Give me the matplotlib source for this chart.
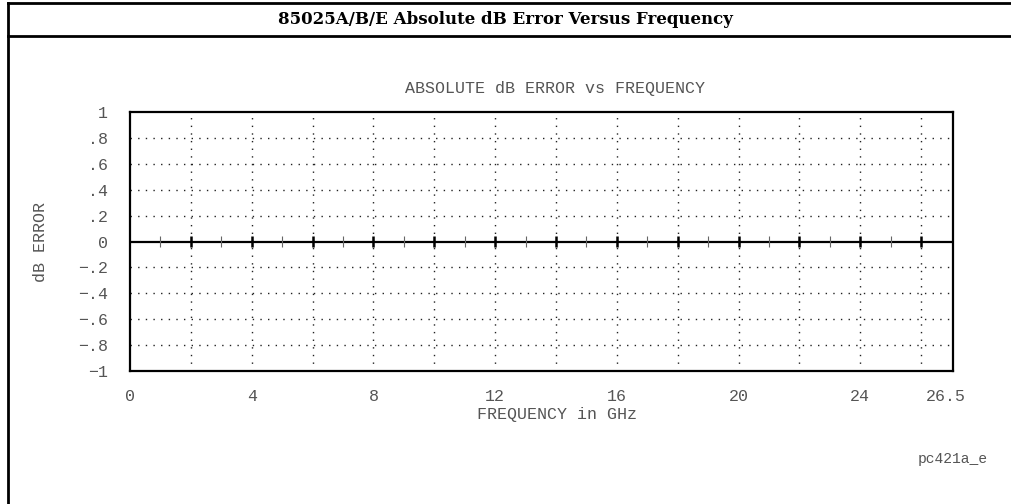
import matplotlib.pyplot as plt
from matplotlib.lines import Line2D

# valori
x_tick_pos = [0, 4, 8, 12, 16, 20, 24, 26.8]
x_tick_labels = ["0", "4", "8", "12", "16", "20", "24", "26.5"]
y_ticks = [1, 0.8, 0.6, 0.4, 0.2, 0, -0.2, -0.4, -0.6, -0.8, -1]
y_tick_labels = ["1", ".8", ".6", ".4", ".2", "0",
                 "\u2212.2", "\u2212.4", "\u2212.6", "\u2212.8", "\u22121"]
grid_x = list(range(2, 27, 2))
grid_y = [0.8, 0.6, 0.4, 0.2, -0.2, -0.4, -0.6, -0.8]
minor_x = list(range(1, 27, 2))
x_max = 27.05

mono = "Liberation Mono"
gray = "#555555"
fsize = 12

fig = plt.figure(figsize=(10.11, 5.04), dpi=100)
ax = fig.add_axes([130 / 1011, 1 - 371 / 504, 823 / 1011, 259 / 504])

ax.set_xlim(0, x_max)
ax.set_ylim(-1, 1)

# griglia punteggiata
for gy in grid_y:
    ax.hlines(gy, 0, x_max, colors="#222222", linestyles=(0, (1, 4.5)), lw=1)
for gx in grid_x:
    ax.vlines(gx, -1, 1, colors="#222222", linestyles=(0, (1, 4.5)), lw=1)

# linea dello zero con tacche
ax.axhline(0, color="black", lw=1.6)
ax.vlines(minor_x, -0.04, 0.04, colors="#666666", lw=0.8)
ax.vlines(grid_x, -0.045, 0.045, colors="black", lw=1.8)

for s in ax.spines.values():
    s.set_linewidth(1.6)

ax.set_xticks(x_tick_pos)
ax.set_xticklabels(x_tick_labels)
ax.set_yticks(y_ticks)
ax.set_yticklabels(y_tick_labels)
ax.tick_params(length=0, colors=gray, labelsize=fsize)
ax.tick_params(axis="x", pad=13)
ax.tick_params(axis="y", pad=16)
for lab in ax.get_xticklabels() + ax.get_yticklabels():
    lab.set_family(mono)

ax.set_xlabel("FREQUENCY in GHz", family=mono, fontsize=fsize, color=gray)
ax.xaxis.set_label_coords((557 - 130) / 823, (371 - 414) / 259)
ax.xaxis.label.set_va("center")
ax.set_ylabel("dB ERROR", family=mono, fontsize=fsize, color=gray)
ax.yaxis.set_label_coords((40 - 130) / 823, 0.5)
ax.yaxis.label.set_va("center")

fig.text(555 / 1011, 1 - 89 / 504, "ABSOLUTE dB ERROR vs FREQUENCY",
         family=mono, fontsize=fsize, color=gray, ha="center", va="center")
fig.text(505 / 1011, 1 - 19 / 504, "85025A/B/E Absolute dB Error Versus Frequency",
         family="DejaVu Serif", fontweight="bold", fontsize=12, ha="center", va="center")
fig.text(953 / 1011, 1 - 459 / 504, "pc421a_e",
         family=mono, fontsize=10.5, color=gray, ha="center", va="center")

# cornice esterna
fig.add_artist(Line2D([8 / 1011, 1], [1 - 3 / 504, 1 - 3 / 504], color="black", lw=2))
fig.add_artist(Line2D([8 / 1011, 1], [1 - 36 / 504, 1 - 36 / 504], color="black", lw=2))
fig.add_artist(Line2D([8 / 1011, 8 / 1011], [0, 1 - 3 / 504], color="black", lw=2))

fig.savefig("out.png", dpi=100)
